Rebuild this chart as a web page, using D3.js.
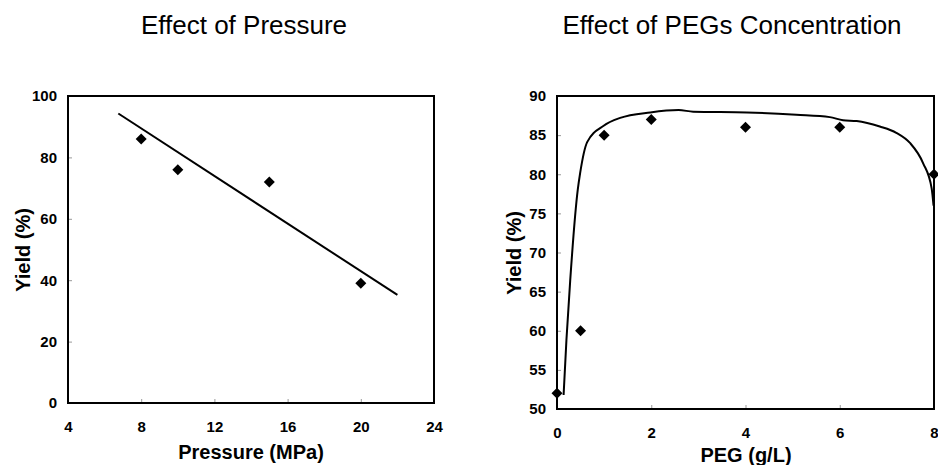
<!DOCTYPE html>
<html><head><meta charset="utf-8">
<script src="https://cdn.jsdelivr.net/npm/d3@7/dist/d3.min.js"></script>
<style>body{margin:0;background:#fff;} svg{display:block;font-family:Arial,"Liberation Sans",sans-serif;}</style>
</head><body>
<script>
// Left chart data
const pressureX = [8, 10, 15, 20];
const pressureYield = [86, 76, 72, 39];
const pressureFitX = [6.75, 22.0];
const pressureFitY = [94.3, 35.2];
const pressureXTicks = [4, 8, 12, 16, 20, 24];
const pressureYTicks = [0, 20, 40, 60, 80, 100];

// Right chart data
const pegX = [0, 0.5, 1, 2, 4, 6, 8];
const pegYield = [52, 60, 85, 87, 86, 86, 80];
const pegCurveX = [0.14, 0.2, 0.28, 0.44, 0.49, 0.64, 0.99, 1.34, 1.98, 2.58, 2.89, 4.03, 5.08, 5.79, 6.07, 6.36, 6.85, 7.2, 7.49, 7.77, 7.95, 7.99];
const pegCurveY = [51.8, 58.8, 66.4, 78.0, 80.1, 84.1, 86.2, 87.2, 87.9, 88.2, 88.0, 87.9, 87.6, 87.3, 86.9, 86.8, 86.1, 85.3, 84.0, 81.4, 78.2, 76.0];
const pegXTicks = [0, 2, 4, 6, 8];
const pegYTicks = [50, 55, 60, 65, 70, 75, 80, 85, 90];

const svg = d3.select("body").append("svg").attr("width", 938).attr("height", 465);

function panel(opt) {
  const g = svg.append("g");
  const x = d3.scaleLinear().domain(opt.xDomain).range([opt.left, opt.right]);
  const y = d3.scaleLinear().domain(opt.yDomain).range([opt.bottom, opt.top]);

  // inner ticks
  const xa = d3.axisBottom(x).tickValues(opt.xTicks).tickSizeInner(-4).tickSizeOuter(0).tickPadding(18);
  const ya = d3.axisLeft(y).tickValues(opt.yTicks).tickSizeInner(-4).tickSizeOuter(0).tickPadding(11);
  const gx = g.append("g").attr("transform", `translate(0,${opt.bottom})`).call(xa);
  const gy = g.append("g").attr("transform", `translate(${opt.left},0)`).call(ya);
  [gx, gy].forEach(a => {
    a.select(".domain").remove();
    a.selectAll(".tick line").attr("stroke", "#999").attr("stroke-width", 1);
    a.selectAll(".tick text").attr("font-size", 15).attr("font-weight", "bold").attr("fill", "#000")
      .attr("font-family", "Arial, 'Liberation Sans', sans-serif");
  });
  gx.selectAll(".tick text").attr("dy", "0.71em");

  // frame
  g.append("rect").attr("x", opt.left).attr("y", opt.top)
    .attr("width", opt.right - opt.left).attr("height", opt.bottom - opt.top)
    .attr("fill", "none").attr("stroke", "#000").attr("stroke-width", 2);

  // line
  const line = d3.line().x(d => x(d[0])).y(d => y(d[1]));
  if (opt.curve) line.curve(d3.curveMonotoneX);
  g.append("path").datum(opt.lineX.map((v, i) => [v, opt.lineY[i]]))
    .attr("d", line).attr("fill", "none").attr("stroke", "#000").attr("stroke-width", 2);

  // diamonds
  const s = 5.5;
  g.selectAll("path.pt").data(opt.px.map((v, i) => [v, opt.py[i]])).enter()
    .append("path").attr("class", "pt")
    .attr("d", d => {
      const cx = x(d[0]), cy = y(d[1]);
      return `M${cx},${cy - s}L${cx + s},${cy}L${cx},${cy + s}L${cx - s},${cy}Z`;
    }).attr("fill", "#000");

  // titles
  g.append("text").attr("x", opt.titleX).attr("y", 34).attr("text-anchor", "middle")
    .attr("font-size", 26).text(opt.title);
  g.append("text").attr("x", opt.xLabelX).attr("y", opt.xLabelY).attr("text-anchor", "middle")
    .attr("font-size", 20).attr("font-weight", "bold").text(opt.xLabel);
  g.append("text").attr("transform", `translate(${opt.yLabelX},${opt.yLabelY}) rotate(-90)`)
    .attr("text-anchor", "middle").attr("font-size", 20).attr("font-weight", "bold").text(opt.yLabel);
}

panel({
  xDomain: [4, 24], yDomain: [0, 100], left: 68, right: 434, top: 96, bottom: 403,
  xTicks: pressureXTicks, yTicks: pressureYTicks,
  lineX: pressureFitX, lineY: pressureFitY, px: pressureX, py: pressureYield,
  title: "Effect of Pressure", titleX: 244, xLabel: "Pressure (MPa)", xLabelX: 251, xLabelY: 459,
  yLabel: "Yield (%)", yLabelX: 30, yLabelY: 250
});

panel({
  xDomain: [0, 8], yDomain: [50, 90], left: 557, right: 934, top: 96, bottom: 409,
  xTicks: pegXTicks, yTicks: pegYTicks, curve: true,
  lineX: pegCurveX, lineY: pegCurveY, px: pegX, py: pegYield,
  title: "Effect of PEGs Concentration", titleX: 732, xLabel: "PEG (g/L)", xLabelX: 746, xLabelY: 462,
  yLabel: "Yield (%)", yLabelX: 521, yLabelY: 253
});
</script>
</body></html>
